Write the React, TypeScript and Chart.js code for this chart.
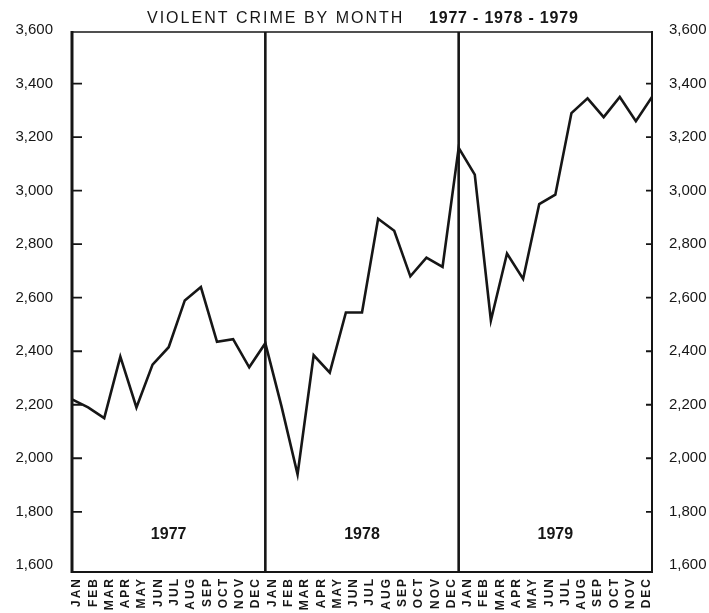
import React, { useEffect, useRef } from 'react';
import { Chart, registerables } from 'chart.js';

Chart.register(...registerables);

// ---- data ----
const monthNames = ['JAN', 'FEB', 'MAR', 'APR', 'MAY', 'JUN', 'JUL', 'AUG', 'SEP', 'OCT', 'NOV', 'DEC'];
const years = ['1977', '1978', '1979'];
// value where the line enters at the left edge (month before JAN 1977)
const leadInValue = 2220;
const crime1977 = [2190, 2150, 2380, 2190, 2350, 2415, 2590, 2640, 2435, 2445, 2340, 2430];
const crime1978 = [2195, 1940, 2385, 2320, 2545, 2545, 2895, 2850, 2680, 2750, 2715, 3160];
const crime1979 = [3060, 2515, 2765, 2670, 2950, 2985, 3290, 3345, 3275, 3350, 3260, 3350];
const yTicks = [1600, 1800, 2000, 2200, 2400, 2600, 2800, 3000, 3200, 3400, 3600];
const yMin = 1575;
const yMax = 3593;
const titleMain = 'VIOLENT CRIME BY MONTH';
const titleYears = '1977 - 1978 - 1979';

const monthLabels: string[] = years.flatMap(() => monthNames);
const allValues: number[] = [...crime1977, ...crime1978, ...crime1979];

const INK = '#161616';
const FONT = '"Liberation Sans", Arial, Helvetica, sans-serif';

const framePlugin = {
  id: 'frame',
  beforeDraw(chart: any) {
    chart.ctx.letterSpacing = '2px';
  },
  beforeDatasetsDraw(chart: any) {
    chart.ctx.letterSpacing = '0px';
  },
  afterDraw(chart: any) {
    const { ctx, chartArea } = chart;
    const xs = chart.scales.x;
    const ys = chart.scales.y;
    const { left, right, top, bottom } = chartArea;
    ctx.save();
    ctx.strokeStyle = INK;
    ctx.lineCap = 'butt';
    // top border
    ctx.lineWidth = 1.6;
    ctx.beginPath();
    ctx.moveTo(left, top);
    ctx.lineTo(right, top);
    ctx.stroke();
    // bottom border
    ctx.lineWidth = 2;
    ctx.beginPath();
    ctx.moveTo(left, bottom);
    ctx.lineTo(right, bottom);
    ctx.stroke();
    // left axis
    ctx.lineWidth = 3;
    ctx.beginPath();
    ctx.moveTo(left, top - 1);
    ctx.lineTo(left, bottom + 1);
    ctx.stroke();
    // right axis
    ctx.lineWidth = 2;
    ctx.beginPath();
    ctx.moveTo(right, top - 1);
    ctx.lineTo(right, bottom + 1);
    ctx.stroke();
    // year dividers at each December
    ctx.lineWidth = 2.6;
    for (let k = 1; k < years.length; k++) {
      const px = xs.getPixelForValue(k * 12 - 1);
      ctx.beginPath();
      ctx.moveTo(px, top);
      ctx.lineTo(px, bottom);
      ctx.stroke();
    }
    // inward tick marks
    ctx.lineWidth = 1.8;
    yTicks.forEach((v) => {
      if (v <= yTicks[0] || v >= yTicks[yTicks.length - 1]) return;
      const py = ys.getPixelForValue(v);
      ctx.beginPath();
      ctx.moveTo(left, py);
      ctx.lineTo(left + 10, py);
      ctx.moveTo(right, py);
      ctx.lineTo(right - 6, py);
      ctx.stroke();
    });
    // year labels centred in each year panel
    ctx.fillStyle = INK;
    ctx.font = `bold 16px ${FONT}`;
    ctx.textAlign = 'center';
    ctx.textBaseline = 'middle';
    ctx.letterSpacing = '0px';
    years.forEach((yr, k) => {
      const a = xs.getPixelForValue(k * 12 - 1);
      const b = xs.getPixelForValue(k * 12 + 11);
      ctx.fillText(yr, (a + b) / 2, bottom - 37);
    });
    // title
    const cx = (left + right) / 2;
    ctx.textAlign = 'left';
    ctx.textBaseline = 'alphabetic';
    ctx.font = `16px ${FONT}`;
    ctx.letterSpacing = '2px';
    ctx.fillText(titleMain, cx - 215, top - 9.5);
    ctx.font = `bold 16px ${FONT}`;
    ctx.letterSpacing = '0.8px';
    ctx.fillText(titleYears, cx + 67, top - 9.5);
    ctx.restore();
  },
};

export default function App() {
  const canvasRef = useRef<HTMLCanvasElement | null>(null);

  useEffect(() => {
    const canvas = canvasRef.current;
    if (!canvas) return;
    const data = [
      { x: -1, y: leadInValue },
      ...allValues.map((v, i) => ({ x: i, y: v })),
    ];
    const yAxisCommon = {
      type: 'linear' as const,
      min: yMin,
      max: yMax,
      afterBuildTicks: (s: any) => {
        s.ticks = yTicks.map((v) => ({ value: v }));
      },
      grid: { display: false, drawTicks: false },
      border: { display: false },
    };
    const chart = new Chart(canvas, {
      type: 'line',
      data: {
        datasets: [
          {
            data,
            xAxisID: 'x',
            yAxisID: 'y',
            borderColor: INK,
            borderWidth: 2.6,
            pointRadius: 0,
            tension: 0,
            fill: false,
          },
        ],
      },
      options: {
        animation: false,
        responsive: false,
        devicePixelRatio: 1,
        layout: { padding: { top: 32, left: 0, right: 0, bottom: 0 } },
        plugins: {
          legend: { display: false },
          title: { display: false },
          tooltip: { enabled: false },
        },
        scales: {
          x: {
            type: 'linear',
            display: false,
            min: -1,
            max: monthLabels.length - 1,
          },
          xl: {
            type: 'linear',
            position: 'bottom',
            min: -0.307,
            max: monthLabels.length - 1 + 0.307,
            afterBuildTicks: (s: any) => {
              s.ticks = monthLabels.map((_, i) => ({ value: i }));
            },
            afterFit: (s: any) => {
              s.height = 41;
            },
            grid: { display: false, drawTicks: false },
            border: { display: false },
            ticks: {
              autoSkip: false,
              minRotation: 90,
              maxRotation: 90,
              padding: 5,
              color: INK,
              font: { family: FONT, size: 12, weight: 'bold' },
              callback: (_v: any, i: number) => monthLabels[i],
            },
          },
          y: {
            ...yAxisCommon,
            position: 'left',
            afterFit: (s: any) => {
              s.width = 72;
            },
            ticks: {
              z: 1,
              padding: 19,
              color: INK,
              font: { family: FONT, size: 15 },
              callback: (v: any) => Number(v).toLocaleString('en-US'),
            },
          },
          y2: {
            ...yAxisCommon,
            position: 'right',
            afterFit: (s: any) => {
              s.width = 57;
            },
            ticks: {
              z: 1,
              padding: 17,
              color: INK,
              font: { family: FONT, size: 15 },
              callback: (v: any) => Number(v).toLocaleString('en-US'),
            },
          },
        },
      },
      plugins: [framePlugin],
    });
    return () => chart.destroy();
  }, []);

  return (
    <div style={{ position: 'absolute', left: 0, top: 0, width: 709, height: 613, background: '#fff' }}>
      <canvas ref={canvasRef} width={709} height={613} style={{ display: 'block' }} />
    </div>
  );
}
